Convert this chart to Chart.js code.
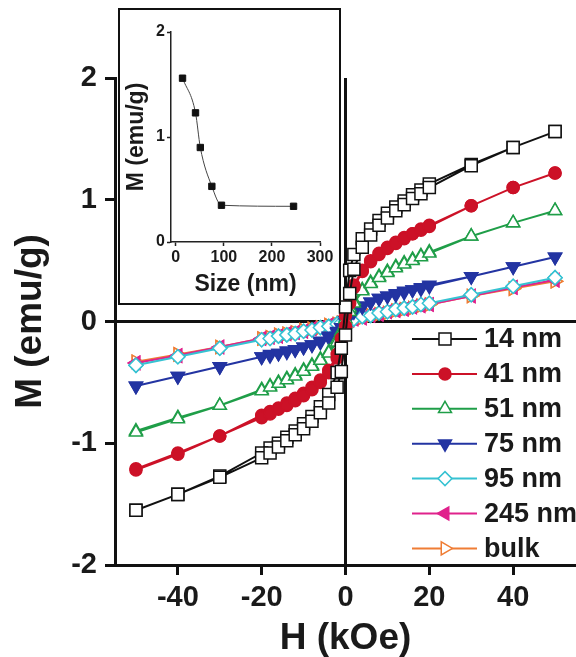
<!DOCTYPE html>
<html>
<head>
<meta charset="utf-8">
<script src="https://cdn.jsdelivr.net/npm/chart.js"></script>
<style>
  body { margin: 0; background: #fff; }
  #wrap { position: relative; width: 576px; height: 657px; }
  canvas { display: block; }
  #inset { position: absolute; left: 118px; top: 8px; width: 223px; height: 297px;
           box-sizing: border-box; border: 2px solid #111; background: #fff; }
</style>
</head>
<body>
<div id="wrap">
  <canvas id="main" width="576" height="657"></canvas>
  <div id="inset"><canvas id="small" width="219" height="293"></canvas></div>
</div>
<script>
// field sweep, kOe: down from +50 then back up
const fieldDown = [50,40,30,20,18,16,14,12,10,8,6,4,2,1,0,-1,-2,-4,-6,-8,-10,-12,-14,-16,-18,-20,-30,-40,-50];
const fieldUp = [-50,-40,-30,-20,-18,-16,-14,-12,-10,-8,-6,-4,-2,-1,0,1,2,4,6,8,10,12,14,16,18,20,30,40,50];

// M (emu/g) along each branch
const m14Down = [1.56,1.43,1.29,1.13,1.08,1.04,0.99,0.94,0.89,0.83,0.76,0.68,0.55,0.42,0.12,-0.22,-0.42,-0.60,-0.70,-0.78,-0.84,-0.90,-0.95,-1.00,-1.04,-1.08,-1.27,-1.42,-1.55];
const m14Up = [-1.55,-1.42,-1.28,-1.12,-1.08,-1.03,-0.98,-0.93,-0.88,-0.82,-0.75,-0.67,-0.54,-0.41,-0.11,0.23,0.43,0.61,0.71,0.79,0.85,0.91,0.96,1.01,1.05,1.10,1.28,1.43,1.56];
const m41Down = [1.22,1.10,0.95,0.79,0.76,0.72,0.69,0.65,0.61,0.56,0.50,0.42,0.30,0.20,0.05,-0.14,-0.27,-0.40,-0.48,-0.54,-0.59,-0.63,-0.67,-0.71,-0.74,-0.77,-0.94,-1.08,-1.21];
const m41Up = [-1.22,-1.09,-0.94,-0.79,-0.76,-0.72,-0.69,-0.65,-0.61,-0.56,-0.50,-0.42,-0.30,-0.19,-0.04,0.15,0.28,0.41,0.49,0.55,0.60,0.64,0.68,0.72,0.75,0.78,0.95,1.10,1.22];
const m51Down = [0.91,0.81,0.70,0.57,0.54,0.51,0.48,0.45,0.41,0.37,0.32,0.26,0.17,0.11,0.02,-0.08,-0.15,-0.25,-0.31,-0.36,-0.40,-0.44,-0.47,-0.50,-0.53,-0.56,-0.69,-0.79,-0.90];
const m51Up = [-0.91,-0.80,-0.69,-0.57,-0.54,-0.51,-0.48,-0.45,-0.41,-0.37,-0.32,-0.26,-0.17,-0.10,-0.02,0.08,0.15,0.25,0.31,0.36,0.40,0.44,0.47,0.50,0.53,0.56,0.70,0.81,0.91];
const m75Down = [0.53,0.45,0.37,0.29,0.27,0.26,0.24,0.22,0.21,0.19,0.16,0.13,0.09,0.06,0.01,-0.05,-0.08,-0.12,-0.16,-0.19,-0.21,-0.23,-0.24,-0.26,-0.27,-0.29,-0.37,-0.45,-0.53];
const m75Up = [-0.53,-0.45,-0.37,-0.29,-0.28,-0.26,-0.25,-0.23,-0.21,-0.19,-0.17,-0.13,-0.09,-0.05,-0.01,0.05,0.08,0.12,0.16,0.19,0.21,0.23,0.25,0.26,0.28,0.30,0.37,0.45,0.53];
const m95Down = [0.36,0.29,0.22,0.15,0.14,0.12,0.11,0.10,0.08,0.07,0.05,0.04,0.02,0.01,0.00,-0.01,-0.02,-0.04,-0.05,-0.07,-0.08,-0.10,-0.11,-0.12,-0.14,-0.15,-0.22,-0.29,-0.36];
const m95Up = [-0.36,-0.29,-0.22,-0.15,-0.14,-0.12,-0.11,-0.10,-0.08,-0.07,-0.05,-0.04,-0.02,-0.01,0.00,0.01,0.02,0.04,0.05,0.07,0.08,0.10,0.11,0.12,0.14,0.15,0.22,0.29,0.36];
const m245Down = [0.34,0.28,0.21,0.14,0.13,0.12,0.10,0.09,0.08,0.06,0.05,0.03,0.02,0.01,0.00,-0.01,-0.02,-0.03,-0.05,-0.06,-0.08,-0.09,-0.10,-0.12,-0.13,-0.14,-0.21,-0.28,-0.34];
const m245Up = [-0.34,-0.28,-0.21,-0.14,-0.13,-0.12,-0.10,-0.09,-0.08,-0.06,-0.05,-0.03,-0.02,-0.01,0.00,0.01,0.02,0.03,0.05,0.06,0.08,0.09,0.10,0.12,0.13,0.14,0.21,0.28,0.34];
const mBulkDown = [0.33,0.27,0.21,0.14,0.13,0.11,0.10,0.09,0.07,0.06,0.05,0.03,0.02,0.01,0.00,-0.01,-0.02,-0.03,-0.05,-0.06,-0.07,-0.09,-0.10,-0.11,-0.13,-0.14,-0.21,-0.27,-0.33];
const mBulkUp = [-0.33,-0.27,-0.21,-0.14,-0.13,-0.11,-0.10,-0.09,-0.07,-0.06,-0.05,-0.03,-0.02,-0.01,0.00,0.01,0.02,0.03,0.05,0.06,0.07,0.09,0.10,0.11,0.13,0.14,0.21,0.27,0.33];

const xTicks = [-40, -20, 0, 20, 40];
const yTicks = [-2, -1, 0, 1, 2];

// inset: saturation M vs particle size
const sizes = [14, 41, 51, 75, 95, 245];
const mSat = [1.56, 1.23, 0.90, 0.53, 0.35, 0.34];
const insetXTicks = [0, 100, 200, 300];
const insetYTicks = [0, 1, 2];

const FONT = '"Liberation Sans", Arial, sans-serif';
Chart.defaults.font.family = FONT;
Chart.defaults.color = '#1a1a1a';

function loop(down, up) {
  const a = fieldDown.map((h, i) => ({x: h, y: down[i]}));
  const b = fieldUp.map((h, i) => ({x: h, y: up[i]}));
  return a.concat(b);
}

function series(label, down, up, color, style, fill, rot, r) {
  return {
    label: label,
    data: loop(down, up),
    showLine: true,
    borderColor: color,
    borderWidth: 2,
    pointStyle: style,
    pointRotation: rot,
    pointRadius: r,
    pointBackgroundColor: fill,
    pointBorderColor: color,
    pointBorderWidth: 1.5
  };
}

const datasets = [
  series('14 nm', m14Down, m14Up, '#111111', 'rect', '#ffffff', 0, 8.5),
  series('41 nm', m41Down, m41Up, '#cc1127', 'circle', '#cc1127', 0, 6),
  series('51 nm', m51Down, m51Up, '#1f9e48', 'triangle', '#ffffff', 0, 7.5),
  series('75 nm', m75Down, m75Up, '#2334a2', 'triangle', '#2334a2', 180, 7.5),
  series('95 nm', m95Down, m95Up, '#36c2d2', 'rectRot', '#ffffff', 0, 7),
  series('245 nm', m245Down, m245Up, '#e0228c', 'triangle', '#e0228c', -90, 7.5),
  series('bulk', mBulkDown, mBulkUp, '#ef7d35', 'triangle', '#ffffff', 90, 7.5)
];

const sideLegend = {
  id: 'sideLegend',
  afterDraw(chart) {
    const ctx = chart.ctx;
    ctx.save();
    chart.data.datasets.forEach((ds, i) => {
      const y = 339 + i * 34.9;
      ctx.strokeStyle = ds.borderColor;
      ctx.lineWidth = 2;
      ctx.beginPath();
      ctx.moveTo(412, y);
      ctx.lineTo(477, y);
      ctx.stroke();
      ctx.fillStyle = ds.pointBackgroundColor;
      ctx.lineWidth = 1.5;
      Chart.helpers.drawPoint(ctx, {
        pointStyle: ds.pointStyle, radius: ds.pointRadius,
        rotation: ds.pointRotation, borderWidth: 1.5
      }, 445, y);
      ctx.fillStyle = '#1a1a1a';
      ctx.font = 'bold 27px ' + FONT;
      ctx.textAlign = 'left';
      ctx.textBaseline = 'middle';
      ctx.fillText(ds.label, 484, y + 1);
    });
    ctx.restore();
  }
};

const zeroLine = c => c.tick.value === 0 ? '#111' : 'rgba(0,0,0,0)';

new Chart(document.getElementById('main'), {
  type: 'scatter',
  data: { datasets: datasets },
  options: {
    responsive: false,
    animation: false,
    layout: { autoPadding: false, padding: { top: 78, right: 0, bottom: 0, left: 0 } },
    plugins: { legend: { display: false }, tooltip: { enabled: false } },
    scales: {
      x: {
        min: -55, max: 55,
        afterFit: s => { s.height = 92; },
        afterBuildTicks: s => { s.ticks = xTicks.map(v => ({value: v})); },
        border: { display: true, color: '#111', width: 3 },
        grid: { color: zeroLine, lineWidth: 3, drawTicks: true, tickLength: 10, tickColor: '#111', tickWidth: 3 },
        ticks: { font: { size: 29, weight: 'bold' }, padding: 6, maxRotation: 0 },
        title: { display: true, text: 'H (kOe)', font: { size: 37, weight: 'bold', lineHeight: 1 }, padding: { top: 0, bottom: 0 } }
      },
      y: {
        min: -2, max: 2,
        afterFit: s => { s.width = 115; },
        afterBuildTicks: s => { s.ticks = yTicks.map(v => ({value: v})); },
        border: { display: true, color: '#111', width: 3 },
        grid: { color: zeroLine, lineWidth: 3, drawTicks: true, tickLength: 10, tickColor: '#111', tickWidth: 3 },
        ticks: { font: { size: 29, weight: 'bold' }, padding: 8 },
        title: { display: true, text: 'M (emu/g)', font: { size: 37, weight: 'bold', lineHeight: 1 }, padding: { top: 12, bottom: 0 } }
      }
    }
  },
  plugins: [sideLegend]
});

new Chart(document.getElementById('small'), {
  type: 'scatter',
  data: {
    datasets: [{
      data: sizes.map((s, i) => ({x: s, y: mSat[i]})),
      showLine: true,
      borderColor: '#444',
      borderWidth: 1,
      cubicInterpolationMode: 'monotone',
      pointStyle: 'rect',
      pointRadius: 4.5,
      pointBackgroundColor: '#111',
      pointBorderColor: '#111',
      pointBorderWidth: 1
    }]
  },
  options: {
    responsive: false,
    animation: false,
    layout: { autoPadding: false, padding: { top: 22, right: 19, bottom: 0, left: 0 } },
    plugins: { legend: { display: false }, tooltip: { enabled: false } },
    scales: {
      x: {
        min: -10, max: 300,
        afterFit: s => { s.height = 61; },
        afterBuildTicks: s => { s.ticks = insetXTicks.map(v => ({value: v})); },
        border: { display: true, color: '#222', width: 1.5 },
        grid: { color: 'rgba(0,0,0,0)', drawTicks: true, tickLength: 4, tickColor: '#222', tickWidth: 1.5 },
        ticks: { font: { size: 16, weight: 'bold' }, padding: 2, maxRotation: 0 },
        title: { display: true, text: 'Size (nm)', font: { size: 23, weight: 'bold', lineHeight: 1 }, padding: { top: 0, bottom: 7 } }
      },
      y: {
        min: 0, max: 2,
        afterFit: s => { s.width = 51; },
        afterBuildTicks: s => { s.ticks = insetYTicks.map(v => ({value: v})); },
        border: { display: true, color: '#222', width: 1.5 },
        grid: { color: 'rgba(0,0,0,0)', drawTicks: true, tickLength: 4, tickColor: '#222', tickWidth: 1.5 },
        ticks: { font: { size: 16, weight: 'bold' }, padding: 2 },
        title: { display: true, text: 'M (emu/g)', font: { size: 23, weight: 'bold', lineHeight: 1 }, padding: { top: 5, bottom: 0 } }
      }
    }
  }
});
</script>
</body>
</html>
